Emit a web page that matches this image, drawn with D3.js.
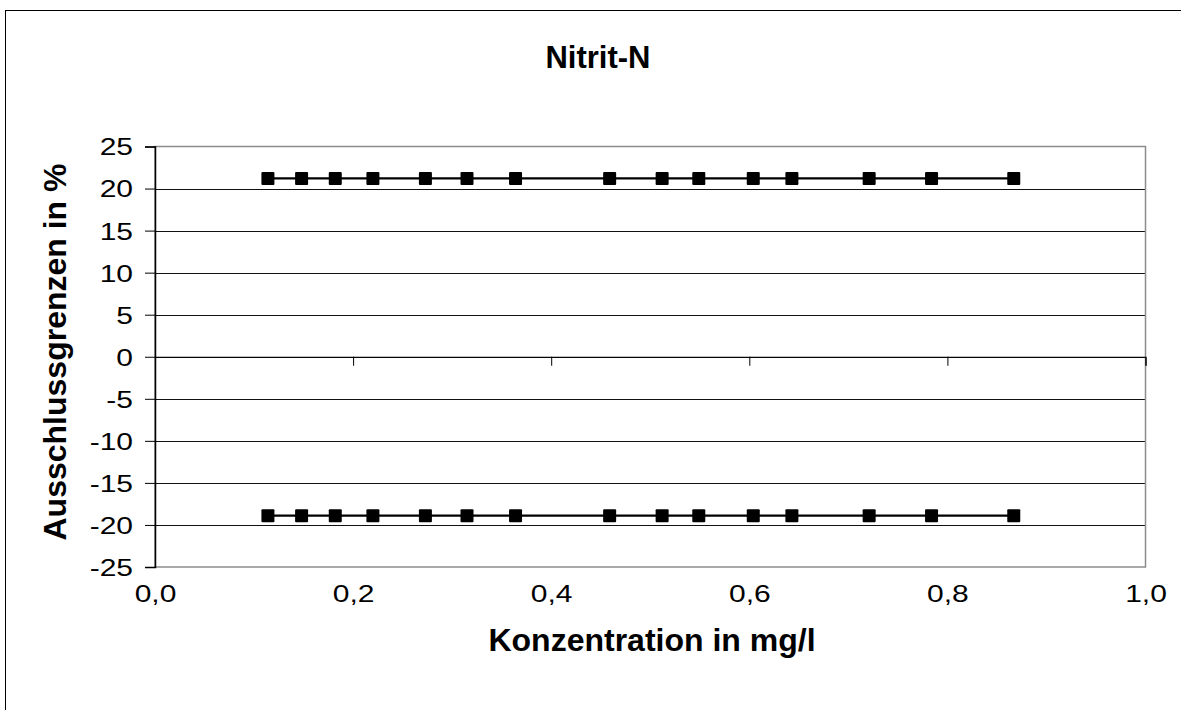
<!DOCTYPE html>
<html>
<head>
<meta charset="utf-8">
<script src="https://cdn.jsdelivr.net/npm/d3@7"></script>
<style>
    html, body { margin: 0; padding: 0; background: #fff; }
    svg { display: block; font-family: "Liberation Sans", Arial, sans-serif; }
</style>
</head>
<body>
<svg id="chart"></svg>
<script>
// data
const concentrations = [0.114, 0.148, 0.182, 0.220, 0.273, 0.315, 0.364, 0.459, 0.512, 0.549, 0.604, 0.643, 0.721, 0.784, 0.867];
const upperLimit = [21.2, 21.2, 21.2, 21.2, 21.2, 21.2, 21.2, 21.2, 21.2, 21.2, 21.2, 21.2, 21.2, 21.2, 21.2];
const lowerLimit = [-18.9, -18.9, -18.9, -18.9, -18.9, -18.9, -18.9, -18.9, -18.9, -18.9, -18.9, -18.9, -18.9, -18.9, -18.9];
const xTicks = [0, 0.2, 0.4, 0.6, 0.8, 1.0];
const yTicks = [-25, -20, -15, -10, -5, 0, 5, 10, 15, 20, 25];

const chartTitle = "Nitrit-N";
const xTitle = "Konzentration in mg/l";
const yTitle = "Ausschlussgrenzen in %";

const width = 1181, height = 710;
const plot = {left: 155, right: 1145.5, top: 146.5, bottom: 567};
const tickStretch = 1.25; // tick labels are a bit wide in the original

const svg = d3.select("#chart")
    .attr("width", width)
    .attr("height", height);

// outer chart frame (runs off the right/bottom edge)
svg.append("rect")
    .attr("x", 5.5)
    .attr("y", 10.5)
    .attr("width", 1300)
    .attr("height", 800)
    .attr("fill", "#fff")
    .attr("stroke", "#000")
    .attr("stroke-width", 1);

let x = d3.scaleLinear().domain([0, 1]).range([plot.left, plot.right]);
let y = d3.scaleLinear().domain([-25, 25]).range([plot.bottom, plot.top]);

const de = d3.formatLocale({decimal: ",", thousands: ".", grouping: [3], currency: ["", "€"]});
const fmtX = de.format(".1f");

// gridlines
svg.append("g")
    .attr("class", "grid")
    .selectAll("line")
    .data(yTicks.filter(d => d > -25 && d < 25))
    .enter()
        .append("line")
        .attr("x1", plot.left)
        .attr("x2", plot.right)
        .attr("y1", d => Math.round(y(d)) + 0.5)
        .attr("y2", d => Math.round(y(d)) + 0.5)
        .attr("stroke", "#111")
        .attr("stroke-width", 1);

// plot area border (grey)
svg.append("rect")
    .attr("x", plot.left)
    .attr("y", plot.top)
    .attr("width", plot.right - plot.left)
    .attr("height", plot.bottom - plot.top)
    .attr("fill", "none")
    .attr("stroke", "#8c8c8c")
    .attr("stroke-width", 1.5);

// y axis
let yAxis = d3.axisLeft(y)
    .tickValues(yTicks)
    .tickSize(10)
    .tickPadding(0)
    .tickFormat(d => d);

let gy = svg.append("g")
    .attr("class", "yAxis")
    .attr("transform", `translate(${plot.left}, 0)`)
    .call(yAxis);

gy.select(".domain").attr("stroke", "#000").attr("stroke-width", 1.5);
gy.selectAll(".tick line").attr("stroke", "#000");
gy.selectAll(".tick text")
    .attr("x", -22 / tickStretch)
    .attr("dy", "0.35em")
    .attr("transform", `scale(${tickStretch},1)`)
    .style("font-size", "24px")
    .attr("fill", "#000");

// x axis at y = 0 with ticks only
let xAxis = d3.axisBottom(x)
    .tickValues(xTicks)
    .tickSize(9)
    .tickFormat("");

let gx = svg.append("g")
    .attr("class", "xAxis")
    .attr("transform", `translate(0, ${y(0)})`)
    .call(xAxis);

gx.select(".domain").attr("stroke", "#000").attr("stroke-width", 1);
gx.selectAll(".tick line").attr("stroke", "#000");

// x labels under the plot area
let xLabels = d3.axisBottom(x)
    .tickValues(xTicks)
    .tickSize(0)
    .tickPadding(0)
    .tickFormat(fmtX);

let gxl = svg.append("g")
    .attr("class", "xLabels")
    .attr("transform", `translate(0, ${plot.bottom})`)
    .call(xLabels);

gxl.select(".domain").remove();
gxl.selectAll(".tick text")
    .attr("y", 0)
    .attr("dy", "1.45em")
    .attr("transform", `scale(${tickStretch},1)`)
    .style("font-size", "24px")
    .attr("fill", "#000");

// series
const series = [upperLimit, lowerLimit].map(vals => vals.map((v, i) => ({x: concentrations[i], y: v})));

let line = d3.line()
    .x(d => x(d.x))
    .y(d => y(d.y));

let groups = svg.selectAll("g.series")
    .data(series)
    .enter()
        .append("g")
        .attr("class", "series");

groups.append("path")
    .attr("d", line)
    .attr("fill", "none")
    .attr("stroke", "#000")
    .attr("stroke-width", 2.2);

groups.selectAll("rect")
    .data(d => d)
    .enter()
        .append("rect")
        .attr("x", d => x(d.x) - 6.5)
        .attr("y", d => y(d.y) - 6.5)
        .attr("width", 13)
        .attr("height", 13)
        .attr("rx", 1)
        .attr("fill", "#000");

// titles
svg.append("text")
    .attr("x", 598)
    .attr("y", 68)
    .attr("text-anchor", "middle")
    .style("font-size", "31px")
    .style("font-weight", "bold")
    .text(chartTitle);

svg.append("text")
    .attr("x", 652)
    .attr("y", 651)
    .attr("text-anchor", "middle")
    .style("font-size", "32px")
    .style("font-weight", "bold")
    .text(xTitle);

svg.append("text")
    .attr("transform", "translate(66, 352) rotate(-90)")
    .attr("text-anchor", "middle")
    .style("font-size", "32px")
    .style("font-weight", "bold")
    .text(yTitle);
</script>
</body>
</html>
